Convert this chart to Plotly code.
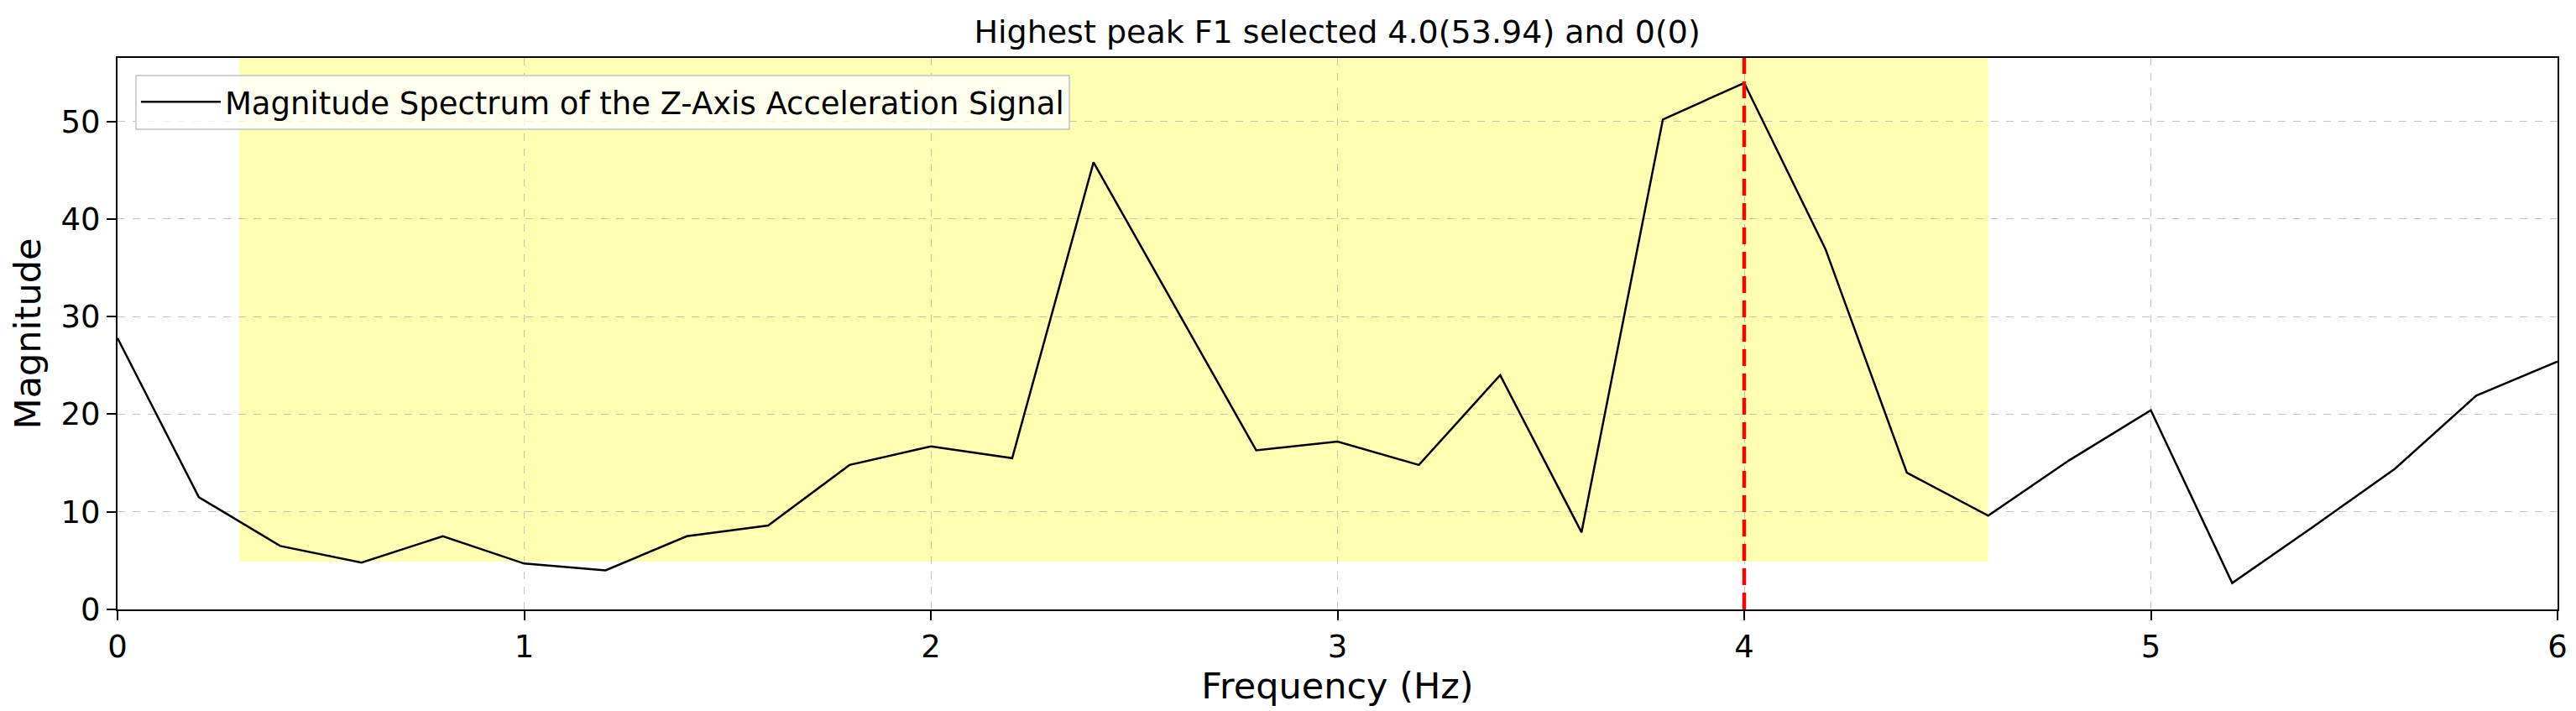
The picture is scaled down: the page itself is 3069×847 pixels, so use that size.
import plotly.graph_objects as go

# ---- data ----
freqs = [0.0, 0.2, 0.4, 0.6, 0.8, 1.0, 1.2, 1.4, 1.6, 1.8, 2.0, 2.2, 2.4, 2.6, 2.8, 3.0,
         3.2, 3.4, 3.6, 3.8, 4.0, 4.2, 4.4, 4.6, 4.8, 5.0, 5.2, 5.4, 5.6, 5.8, 6.0]
magnitude = [27.8, 11.5, 6.5, 4.8, 7.5, 4.7, 4.0, 7.5, 8.6, 14.8, 16.7, 15.5, 45.8, 31.0, 16.3, 17.2,
             14.8, 24.0, 7.9, 50.2, 53.94, 36.9, 14.0, 9.6, 15.3, 20.4, 2.7, 8.5, 14.4, 21.9, 25.4]
peak_freq = 4.0
band_x = [0.3, 4.6]
band_y_bottom = 4.9
x_range = [0, 6]
y_range = [0, 56.5]
x_ticks = [0, 1, 2, 3, 4, 5, 6]
y_ticks = [0, 10, 20, 30, 40, 50]
title_text = "Highest peak F1 selected 4.0(53.94) and 0(0)"
series_name = "Magnitude Spectrum of the Z-Axis Acceleration Signal"

FONT = "DejaVu Sans"

fig = go.Figure()

fig.add_trace(go.Scatter(
    x=freqs, y=magnitude, mode="lines", name=series_name,
    line=dict(color="black", width=2.5),
))

# highlighted band
fig.add_shape(type="rect", xref="x", yref="y",
              x0=band_x[0], x1=band_x[1], y0=band_y_bottom, y1=y_range[1],
              fillcolor="rgba(255,255,0,0.3)", line=dict(width=0), layer="below")

# peak line
fig.add_shape(type="line", xref="x", yref="paper",
              x0=peak_freq, x1=peak_freq, y0=0, y1=1,
              line=dict(color="red", width=4.5, dash="20px,9px"), layer="above")

fig.update_layout(
    width=3069, height=847,
    margin=dict(l=132, r=30, t=61, b=129, autoexpand=False),
    paper_bgcolor="white", plot_bgcolor="white",
    font=dict(family=FONT, color="black"),
    title=dict(text=title_text, x=0.5165, xanchor="center", y=0.965, yanchor="middle",
               font=dict(family=FONT, size=38, color="black")),
    showlegend=True,
    legend=dict(x=0.0072, y=0.97, xanchor="left", yanchor="top", itemwidth=95,
                bgcolor="rgba(255,255,255,0.8)", bordercolor="#d0d0d0", borderwidth=2,
                font=dict(family=FONT, size=37, color="black")),
    xaxis=dict(range=x_range, tickvals=x_ticks, ticktext=[str(t) for t in x_ticks],
               automargin=False,
               showline=True, mirror=True, linecolor="black", linewidth=2,
               ticks="outside", ticklen=11, tickwidth=2, tickcolor="black",
               showgrid=True, gridcolor="rgba(176,176,176,0.75)", gridwidth=1, griddash="dash",
               zeroline=False,
               tickfont=dict(family=FONT, size=37, color="black"),
               title=dict(text="Frequency (Hz)", font=dict(family=FONT, size=43, color="black"),
                          standoff=2)),
    yaxis=dict(range=y_range, tickvals=y_ticks, ticktext=[str(t) for t in y_ticks],
               automargin=False,
               showline=True, mirror=True, linecolor="black", linewidth=2,
               ticks="outside", ticklen=11, tickwidth=2, tickcolor="black",
               showgrid=True, gridcolor="rgba(176,176,176,0.75)", gridwidth=1, griddash="dash",
               zeroline=False,
               tickfont=dict(family=FONT, size=37, color="black"),
               title=dict(text="Magnitude", font=dict(family=FONT, size=43, color="black"),
                          standoff=10)),
)

fig.write_html("out.html")
